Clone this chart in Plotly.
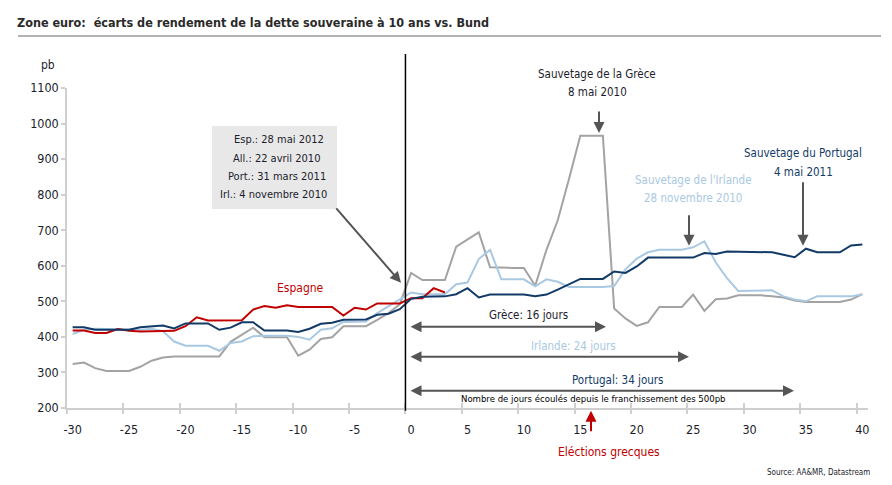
import plotly.graph_objects as go

# ---------------- data ----------------
days = list(range(-30, 41))
days_esp = list(range(-30, 4))

espagne = [418, 418, 411, 411, 422, 417, 415, 415, 415, 417, 430, 455, 446, 447, 447, 447,
           477, 487, 482, 489, 484, 484, 484, 484, 460, 482, 477, 494, 494, 494,
           509, 509, 537, 525]

portugal = [427, 427, 420, 420, 420, 420, 427, 430, 432, 424, 438, 438, 438, 420, 426, 441,
            441, 418, 418, 418, 414, 423, 437, 440, 448, 449, 449, 462, 465, 478,
            507, 513, 514, 514, 520, 537, 511, 519, 519, 519, 519, 514, 519, 533, 548, 563,
            563, 563, 584, 580, 598, 623, 623, 623, 623, 623, 636, 633, 640, 640, 640, 640,
            638, 631, 624, 648, 638, 638, 638, 657, 660]

irlande = [408, 420, 423, 422, 420, 420, 420, 423, 416, 387, 375, 375, 375, 361, 383, 387,
           402, 403, 403, 403, 400, 392, 420, 424, 442, 442, 443, 467, 486, 505,
           525, 520, 520, 520, 548, 553, 619, 645, 562, 562, 562, 542, 562, 555, 540, 540,
           540, 540, 543, 590, 620, 638, 645, 645, 645, 652, 669, 610, 565, 529, 529, 529,
           531, 514, 505, 500, 514, 514, 514, 514, 520]

grece = [324, 328, 312, 304, 304, 304, 316, 333, 342, 345, 345, 345, 345, 345, 386, 406,
         426, 399, 399, 399, 347, 364, 394, 399, 430, 430, 430, 448, 467, 492,
         580, 560, 560, 560, 654, 673, 694, 596, 594, 594, 594, 544, 645, 728, 845, 966,
         966, 966, 480, 452, 431, 441, 484, 484, 484, 519, 473, 506, 508, 517, 517, 517,
         514, 511, 502, 498, 498, 498, 498, 505, 520]

x_labels = list(range(-30, 41, 5))
x_bounds = [v - 0.5 for v in range(-30, 41, 5)]
y_ticks = list(range(200, 1101, 100))

# ---------------- style ----------------
FONT = "DejaVu Sans Condensed, Liberation Sans Narrow, sans-serif"
TXT = "#1c1c2c"
RED = "#C00000"
NAVY = "#123A66"
LBLUE = "#A9C9E3"
GREY = "#A3A3A3"
ARROW = "#555555"
AX = "#CFCFCF"

L, R, T, B = 67, 868, 88.0, 408.3
ANN = 11.5


def P(px, py):
    return (px - L) / (R - L), (B - py) / (B - T)


fig = go.Figure()

fig.add_trace(go.Scatter(x=days, y=grece, mode="lines", line=dict(color=GREY, width=2), name="Grèce"))
fig.add_trace(go.Scatter(x=days, y=irlande, mode="lines", line=dict(color=LBLUE, width=2), name="Irlande"))
fig.add_trace(go.Scatter(x=days_esp, y=espagne, mode="lines", line=dict(color=RED, width=2), name="Espagne"))
fig.add_trace(go.Scatter(x=days, y=portugal, mode="lines", line=dict(color=NAVY, width=2), name="Portugal"))

# dummy traces for tick overlay axes
fig.add_trace(go.Scatter(x=[-30, 40], y=[200, 200], mode="lines", line=dict(width=0),
                         opacity=0, xaxis="x2", hoverinfo="skip", showlegend=False))
fig.add_trace(go.Scatter(x=[-30, 40], y=[200, 200], mode="lines", line=dict(width=0),
                         opacity=0, xaxis="x3", hoverinfo="skip", showlegend=False))

xr = [-30.5, 40.5]
fig.update_layout(
    width=892, height=485,
    margin=dict(l=L, r=892 - R, t=T, b=485 - B, autoexpand=False),
    paper_bgcolor="white", plot_bgcolor="white",
    showlegend=False,
    font=dict(family=FONT, color=TXT, size=12),
    xaxis=dict(range=xr, tickmode="array", tickvals=x_labels, ticktext=[str(v) for v in x_labels],
               ticks="", showgrid=False, zeroline=False, showline=True, linecolor=AX,
               linewidth=1.5, tickfont=dict(size=12.5, color=TXT), ticklabelstandoff=9,
               automargin=False),
    xaxis2=dict(range=xr, overlaying="x", anchor="y", side="bottom", tickmode="array",
                tickvals=x_bounds, ticks="outside", ticklen=5, tickcolor=AX, tickwidth=1.5,
                showticklabels=False, showgrid=False, zeroline=False, showline=False,
                automargin=False),
    xaxis3=dict(range=xr, overlaying="x", anchor="y", side="bottom", tickmode="array",
                tickvals=x_bounds, ticks="inside", ticklen=5, tickcolor=AX, tickwidth=1.5,
                showticklabels=False, showgrid=False, zeroline=False, showline=False,
                automargin=False),
    yaxis=dict(range=[200, 1100], tickmode="array", tickvals=y_ticks, ticks="outside", ticklen=4,
               tickcolor=AX, tickwidth=1.5, showgrid=False, zeroline=False, showline=True,
               linecolor=AX, linewidth=1.5, tickfont=dict(size=12.5, color=TXT),
               automargin=False),
)

# vertical black line at day -0.5
fig.add_shape(type="line", xref="x", yref="paper", x0=-0.5, x1=-0.5,
              y0=P(0, 411)[1], y1=P(0, 54)[1], line=dict(color="black", width=1.5))

# title underline
fig.add_shape(type="line", xref="paper", yref="paper",
              x0=P(18, 0)[0], x1=P(881, 0)[0], y0=P(0, 36)[1], y1=P(0, 36)[1],
              line=dict(color="#9A9A9A", width=1.5))

ann = []


def text(px, py, s, color=TXT, size=ANN, xanchor="center", align="center", **kw):
    x, y = P(px, py)
    d = dict(x=x, y=y, xref="paper", yref="paper", text=s, showarrow=False,
             xanchor=xanchor, yanchor="middle", align=align,
             font=dict(family=FONT, size=size, color=color))
    d.update(kw)
    ann.append(d)


def arrow(hx, hy, tx, ty, color=ARROW, width=2, both=False):
    x, y = P(hx, hy)
    ann.append(dict(x=x, y=y, xref="paper", yref="paper", text="", showarrow=True,
                    ax=tx - hx, ay=ty - hy, arrowhead=2, arrowsize=1.1, arrowwidth=width,
                    arrowcolor=color, arrowside="end+start" if both else "end",
                    standoff=0, startstandoff=0))


# title
text(15, 22, "<b>Zone euro:  écarts de rendement de la dette souveraine à 10 ans vs. Bund</b>",
     size=12.5, xanchor="left", color="#2a2a2a")
text(48, 65, "pb", size=12)

# dates box
x0b, y0b = P(212, 209)
x1b, y1b = P(337, 126)
fig.add_shape(type="rect", xref="paper", yref="paper", x0=x0b, x1=x1b, y0=y0b, y1=y1b,
              fillcolor="#E8E8E8", line=dict(width=0), layer="above")
text(326, 140, "Esp.: 28 mai 2012", xanchor="right", align="right", size=11)
text(322, 159, "All.: 22 avril 2010", xanchor="right", align="right", size=11)
text(328, 177, "Port.: 31 mars 2011", xanchor="right", align="right", size=11)
text(329, 195, "Irl.: 4 novembre 2010", xanchor="right", align="right", size=11)
arrow(401, 283, 335, 207)

text(300, 288, "Espagne", color=RED, size=12)

text(597, 74, "Sauvetage de la Grèce")
text(597, 92, "8 mai 2010")
arrow(599, 133, 599, 110)

text(693, 180, "Sauvetage de l'Irlande", color=LBLUE)
text(693, 198, "28 novembre 2010", color=LBLUE)
arrow(689, 246, 689, 214)

text(803, 153, "Sauvetage du Portugal", color=NAVY)
text(803, 172, "4 mai 2011", color=NAVY)
arrow(803, 246, 803, 181)

text(528, 315, "Grèce: 16 jours")
arrow(606, 327, 409, 327, both=True)
text(573, 346, "Irlande: 24 jours", color=LBLUE)
arrow(689, 357, 409, 357, both=True)
text(617, 380, "Portugal: 34 jours", color=NAVY)
arrow(794, 391, 409, 391, both=True)
text(593, 399, "Nombre de jours écoulés depuis le franchissement des 500pb", size=9.5, color="black")

arrow(591, 411, 591, 433, color=RED)
text(609, 452, "Eléctions grecques", color=RED, size=12)

text(872, 473, "Source: AA&MR, Datastream", size=8, xanchor="right")

fig.update_layout(annotations=ann)
fig.write_html("out.html", config={"displayModeBar": False},
               post_script="document.body.style.margin='0';document.body.style.padding='0';")
